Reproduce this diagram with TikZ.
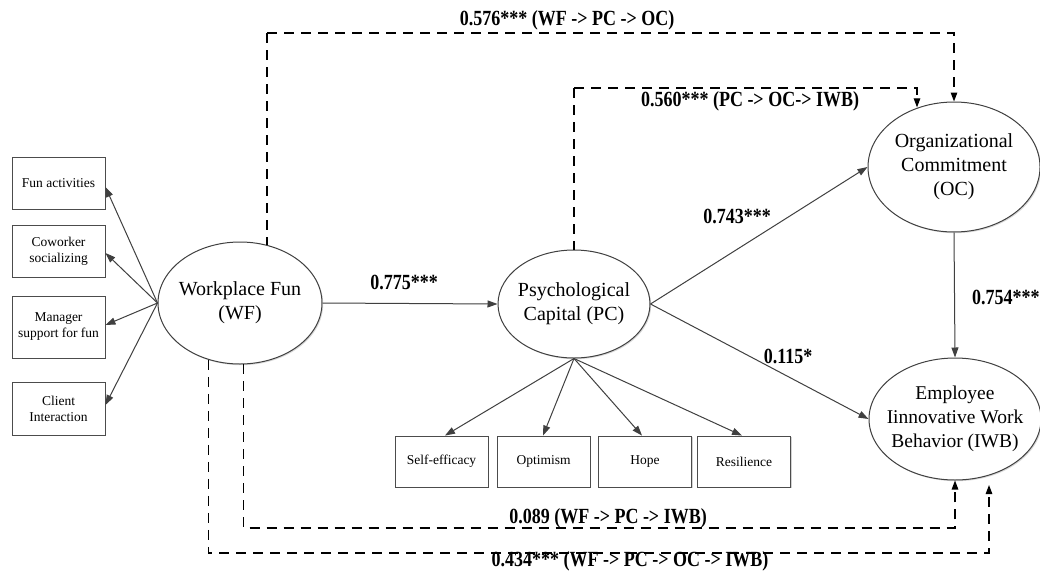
\documentclass[tikz,border=0pt]{standalone}
\usepackage{fontspec}
\usepackage{graphicx}
\setmainfont{Liberation Serif}
\usetikzlibrary{shapes.geometric,arrows.meta,shadows}
\newcommand{\tallbox}[1]{\scalebox{1}[1.2]{#1}}
\begin{document}
\begin{tikzpicture}[x=1pt,y=-1pt,
  ind/.style={draw=black!70, line width=0.9pt, fill=white, minimum width=93, minimum height=52, inner sep=0pt,
    font=\fontsize{13.5}{16}\selectfont, align=center, drop shadow={shadow xshift=1.2pt, shadow yshift=-1.2pt, opacity=0.35}},
  lat/.style={ellipse, draw=black!75, line width=1pt, fill=white, inner sep=0pt,
    drop shadow={shadow xshift=1.2pt, shadow yshift=-1.2pt, opacity=0.3}},
  latt/.style={inner sep=0pt, align=center, font=\fontsize{20}{24}\selectfont},
  arr/.style={draw=black!75, line width=1pt, -{Triangle[length=10pt,width=7pt]}},
  dsh/.style={black, line width=1.2pt, dash pattern=on 10pt off 7pt},
  dsharr/.style={dsh, -{Triangle[length=9pt,width=6.5pt]}},
  lab/.style={font=\bfseries\fontsize{18}{20}\selectfont, inner sep=0pt}
]
\useasboundingbox (0,0) rectangle (1040,570);
\fill[white] (0,0) rectangle (1040,570);

% latent variables
\node[lat, minimum width=164, minimum height=122] (WF) at (240,303) {};
\node[latt] (WFt) at (WF.center) {Workplace Fun\\(WF)};
\node[lat, minimum width=152, minimum height=108] (PC) at (574,304) {};
\node[latt] (PCt) at (PC.center) {Psychological\\Capital (PC)};
\node[lat, minimum width=172, minimum height=130] (OC) at (954,167) {};
\node[latt] (OCt) at (OC.center) {Organizational\\Commitment\\(OC)};
\node[lat, minimum width=172, minimum height=122] (IWB) at (955,419) {};
\node[latt, font=\fontsize{19.5}{24}\selectfont] (IWBt) at (IWB.center) {Employee\\Iinnovative Work\\Behavior (IWB)};

% WF indicators
\node[ind] (fa) at (58.5,183) {Fun activities};
\node[ind] (cs) at (58.5,251) {Coworker\\socializing};
\node[ind, minimum height=62] (ms) at (58.5,327) {Manager\\support for fun};
\node[ind, minimum height=53] (ci) at (58.5,408.5) {Client\\Interaction};

% PC indicators
\node[ind, minimum height=51] (se) at (441.5,461.5) {Self-efficacy};
\node[ind, minimum height=51] (op) at (543.5,461.5) {Optimism};
\node[ind, minimum height=51] (ho) at (645,461.5) {Hope};
\node[ind, minimum height=51] (re) at (744,461.5) {Resilience};

% WF -> indicators
\draw[arr] (WF.west) -- (fa.east |- 0,187);
\draw[arr] (WF.west) -- (cs.east |- 0,253);
\draw[arr] (WF.west) -- (ms.east |- 0,325);
\draw[arr] (WF.west) -- (ci.east |- 0,405);

% PC -> indicators
\draw[arr] (PC.south) -- (se.north -| 445,0);
\draw[arr] (PC.south) -- (op.north -| 543,0);
\draw[arr] (PC.south) -- (ho.north -| 642,0);
\draw[arr] (PC.south) -- (re.north -| 742,0);

% structural paths
\draw[arr] (WF.east) -- (PC.west);
\draw[arr] (PC.east) -- (OC.west);
\draw[arr] (PC.east) -- (IWB.west);
\draw[arr] (OC.south) -- (IWB.north);

% dashed indirect paths
\coordinate (t1) at (954,33);
\coordinate (t0) at (WF.65 |- t1);
\coordinate (t2) at (917,88);
\coordinate (t3) at (PC.north |- t2);
\coordinate (b1) at (955,528);
\coordinate (b2) at (989,553);
\coordinate (b3) at (989,485);
\draw[dsh] (t0) -- (WF.65);
\draw[dsharr] (t0) -- (t1) -- (OC.north);
\draw[dsh] (t3) -- (PC.north);
\draw[dsharr] (t3) -- (t2) -- (t2 |- OC.121);
\draw[dsharr] (WF.-87) |- (b1) -- (IWB.south);
\draw[dsharr] (WF.-119) |- (b2) -- (b3);

% labels
\node[lab] (l1) at (567,20) {\tallbox{0.576*** (WF -> PC -> OC)}};
\node[lab] (l2) at (750,101) {\tallbox{0.560*** (PC -> OC-> IWB)}};
\node[lab] (l3) at (404,282) {\tallbox{0.775***}};
\node[lab] (l4) at (737,216) {\tallbox{0.743***}};
\node[lab] (l5) at (788,356) {\tallbox{0.115*}};
\node[lab, anchor=west] (l6) at (972,297) {\tallbox{0.754***}};
\node[lab] (l7) at (608,518) {\tallbox{0.089 (WF -> PC -> IWB)}};
\node[lab] (l8) at (630,561) {\tallbox{0.434*** (WF -> PC -> OC -> IWB)}};
\end{tikzpicture}
\end{document}
